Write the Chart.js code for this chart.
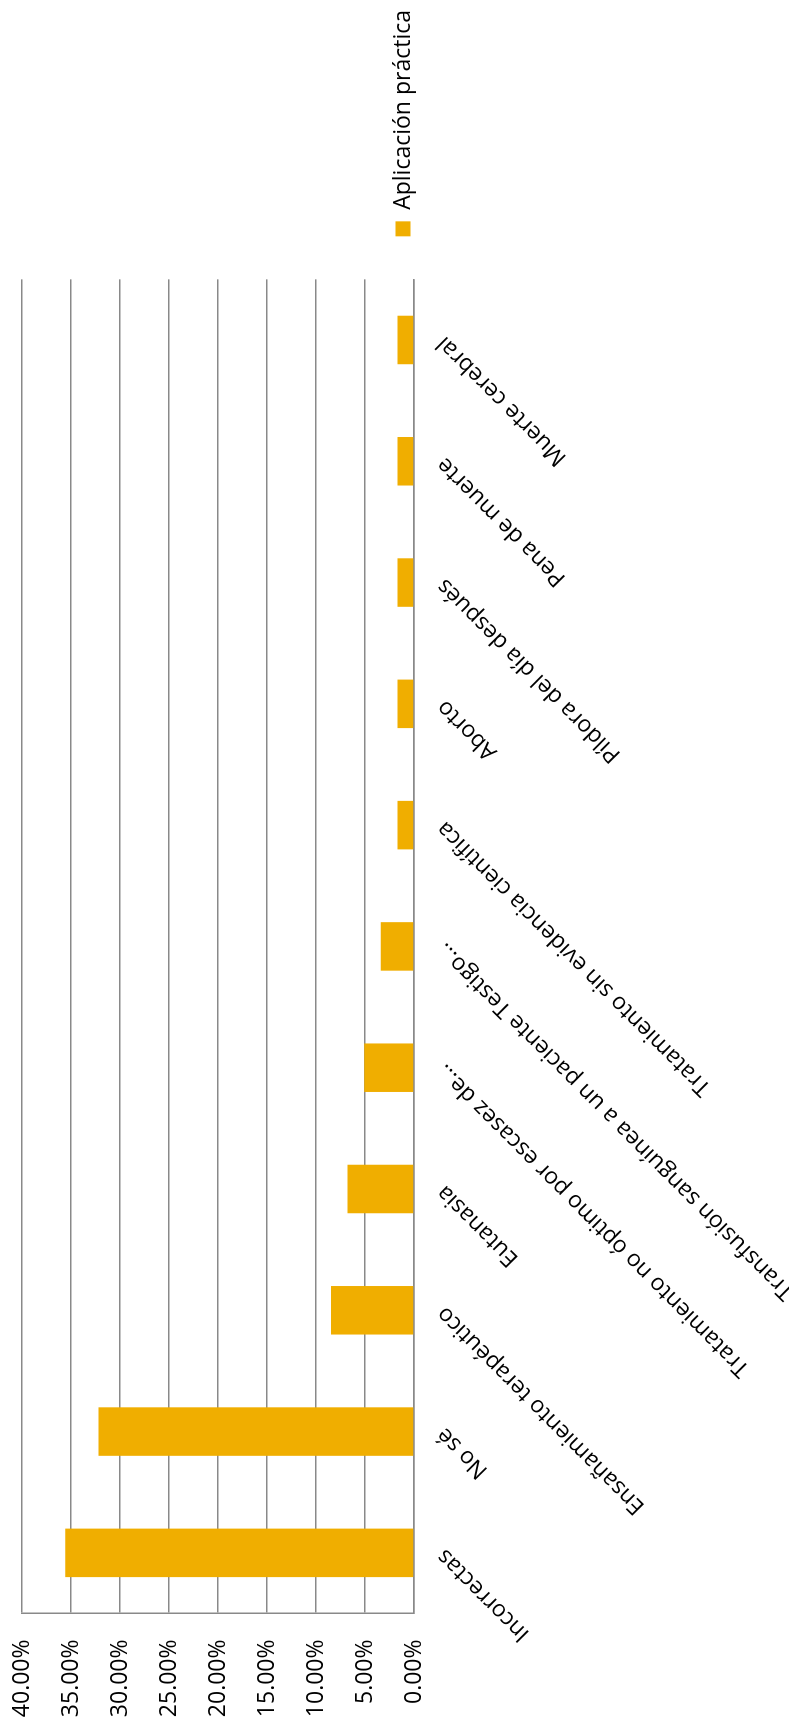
<!DOCTYPE html>
<html>
<head>
<meta charset="utf-8">
<script src="https://cdn.jsdelivr.net/npm/chart.js@4.4.1/dist/chart.umd.min.js"></script>
<style>
  html, body { margin: 0; padding: 0; background: #fff; overflow: hidden; }
  body { width: 789px; height: 1722px; position: relative; }
  /* the chart is drawn landscape and turned a quarter turn */
  #wrap {
    position: absolute; left: 0; top: 0;
    width: 1722px; height: 789px;
    transform-origin: 0 0;
    transform: translateY(1722px) rotate(-90deg);
  }
</style>
</head>
<body>
<div id="wrap"><canvas id="barChart" width="1722" height="789"></canvas></div>
<script>
const categories = [
  "Incorrectas",
  "No sé",
  "Ensañamiento terapéutico",
  "Eutanasia",
  "Tratamiento no óptimo por escasez de…",
  "Transfusión sanguínea a un paciente Testigo…",
  "Tratamiento sin evidencia científica",
  "Aborto",
  "Píldora del día después",
  "Pena de muerte",
  "Muerte cerebral"
];
const seriesName = "Aplicación práctica";
const values = [35.59, 32.20, 8.47, 6.78, 5.08, 3.39, 1.69, 1.69, 1.69, 1.69, 1.69];
const yMin = 0;
const yMax = 40;
const yStep = 5;

const gridColor = "#898989";
const barColor = "#f0ae00";
const font = { family: "'Open Sans', sans-serif", size: 23 };

const ctx = document.getElementById("barChart");
new Chart(ctx, {
  type: "bar",
  data: {
    labels: categories,
    datasets: [
      {
        label: seriesName,
        data: values,
        backgroundColor: barColor,
        barPercentage: 0.4,
        categoryPercentage: 1.0,
      },
    ],
  },
  options: {
    responsive: false,
    animation: false,
    layout: { padding: { top: 17, right: 0, left: 0, bottom: 0 } },
    plugins: {
      legend: {
        position: "right",
        labels: { boxWidth: 15, boxHeight: 15, color: "#000", font: font, padding: 10 },
      },
      tooltip: { enabled: false },
    },
    scales: {
      x: {
        grid: { display: false },
        border: { display: true, color: gridColor, width: 1.5 },
        ticks: { minRotation: 45, maxRotation: 45, autoSkip: false, padding: 9, color: "#000", font: font },
        afterFit: (scale) => { scale.height = 375; },
      },
      y: {
        min: yMin,
        max: yMax,
        ticks: {
          stepSize: yStep,
          color: "#000",
          font: font,
          padding: 26,
          callback: (v) => v.toFixed(2) + "%",
        },
        grid: { color: gridColor, lineWidth: 1.5, drawTicks: false },
        border: { display: true, color: gridColor, width: 1.5 },
        afterFit: (scale) => {
          scale.width = 108.5;
          scale.paddingTop = 22;
          scale.paddingBottom = 0;
        },
      },
      // empty space between the plot and the legend
      gap: {
        type: "linear",
        position: "right",
        grid: { display: false },
        border: { display: false },
        ticks: { display: false },
        afterFit: (scale) => { scale.width = 33; },
      },
    },
  },
});
</script>
</body>
</html>
